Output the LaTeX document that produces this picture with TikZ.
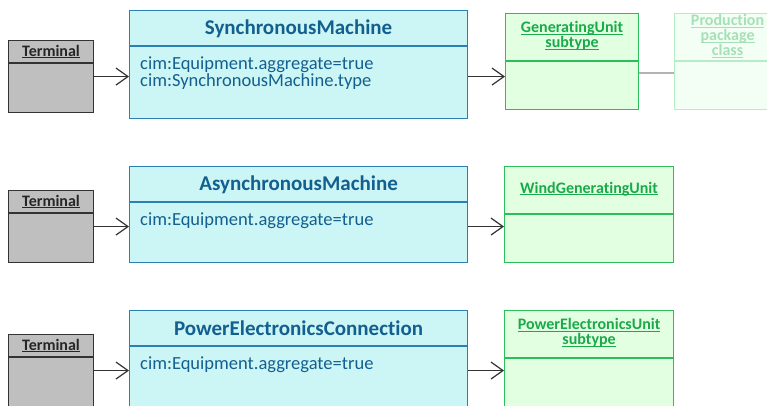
\documentclass[tikz,border=0pt]{standalone}
\usepackage{fontspec}
\setmainfont{Carlito}[Ligatures={NoCommon,NoContextual}]
\usetikzlibrary{arrows.meta}
\definecolor{tfill}{HTML}{BFBFBF}
\definecolor{tline}{HTML}{333333}
\definecolor{ttext}{HTML}{262626}
\definecolor{cfill}{HTML}{CCF5F5}
\definecolor{cline}{HTML}{2A80B4}
\definecolor{ctext}{HTML}{135F8F}
\definecolor{gfill}{HTML}{E2FFE2}
\definecolor{gline}{HTML}{2DBE5C}
\definecolor{gtext}{HTML}{1AAA4A}
\definecolor{ffill}{HTML}{F3FFF5}
\definecolor{fline}{HTML}{B6ECC6}
\definecolor{ftext}{HTML}{A6E0B6}
\definecolor{conn}{HTML}{B3B3B3}
\newcommand\myul[1]{\setbox0\hbox{#1}\rlap{\rule[-1.6pt]{\wd0}{0.9pt}}\box0}
\tikzset{
  box/.style={draw, line width=1.1pt, inner sep=0pt, anchor=north west},
  termbox/.style={box, fill=tfill, draw=tline, minimum width=85pt, minimum height=72pt},
  cyanbox/.style={box, fill=cfill, draw=cline, minimum width=338pt},
  greenbox/.style={box, fill=gfill, draw=gline},
  fadebox/.style={box, fill=ffill, draw=fline},
  termtext/.style={text=ttext, font=\fontsize{16}{14}\selectfont\bfseries},
  titletext/.style={text=ctext, font=\fontsize{21}{22}\selectfont\bfseries},
  attrtext/.style={text=ctext, font=\fontsize{18.5}{16}\selectfont, anchor=north west, align=left, inner sep=0pt},
  greentext/.style={text=gtext, font=\fontsize{16}{15}\selectfont\bfseries, align=center, inner sep=0pt},
  fadetext/.style={text=ftext, font=\fontsize{16}{15}\selectfont\bfseries, align=center, inner sep=0pt},
  assoc/.style={draw=tline, line width=1.2pt, -{Straight Barb[length=12pt,width=17pt,line width=1.2pt]}},
  plain/.style={draw=conn, line width=1.6pt}
}
\begin{document}
\begin{tikzpicture}[x=1pt,y=-1pt]
\useasboundingbox (0,0) rectangle (767,405);
\clip (0,0) rectangle (767,405);
\fill[white] (0,0) rectangle (767,405);

% ---------- Row 1 ----------
\node[termbox] (t1) at (8,40) {};
\draw[tline, line width=1.1pt] ([yshift=-23pt]t1.north west) -- ([yshift=-23pt]t1.north east);
\node[termtext] (t1t) at ([yshift=-11.5pt]t1.north) {\myul{Terminal}};

\node[cyanbox, minimum height=108pt] (sm) at (129,10) {};
\draw[cline, line width=1.1pt] ([yshift=-36pt]sm.north west) -- ([yshift=-36pt]sm.north east);
\node[titletext] (smt) at ([yshift=-18.5pt]sm.north) {SynchronousMachine};
\node[attrtext] (sma) at ([xshift=11pt,yshift=-46.5pt]sm.north west) {cim:Equipment.aggregate=true\\cim:SynchronousMachine.type};

\node[greenbox, minimum width=133pt, minimum height=96pt] (gu) at (505,13) {};
\draw[gline, line width=1.1pt] ([yshift=-48pt]gu.north west) -- ([yshift=-48pt]gu.north east);
\node[greentext] (gut) at ([yshift=-23pt]gu.north) {\myul{GeneratingUnit}\\\myul{subtype}};

\node[fadebox, minimum width=106pt, minimum height=96pt] (pr) at (674,13) {};
\draw[fline, line width=1.1pt] ([yshift=-48pt]pr.north west) -- ([yshift=-48pt]pr.north east);
\node[fadetext] (prt) at ([yshift=-23pt]pr.north) {\myul{Production}\\\myul{package}\\\myul{class}};

\draw[assoc] (t1.east) -- (t1.east -| sm.west);
\draw[assoc] (t1.east -| sm.east) -- (t1.east -| gu.west);
\draw[plain] ([yshift=-60pt]gu.north east) -- ([yshift=-60pt]gu.north east -| pr.west);

% ---------- Row 2 ----------
\node[termbox] (t2) at (8,190) {};
\draw[tline, line width=1.1pt] ([yshift=-23pt]t2.north west) -- ([yshift=-23pt]t2.north east);
\node[termtext] (t2t) at ([yshift=-11.5pt]t2.north) {\myul{Terminal}};

\node[cyanbox, minimum height=96pt] (am) at (129,166) {};
\draw[cline, line width=1.1pt] ([yshift=-36pt]am.north west) -- ([yshift=-36pt]am.north east);
\node[titletext] (amt) at ([yshift=-18.5pt]am.north) {AsynchronousMachine};
\node[attrtext] (ama) at ([xshift=11pt,yshift=-46.5pt]am.north west) {cim:Equipment.aggregate=true};

\node[greenbox, minimum width=169pt, minimum height=96pt] (wg) at (504,166) {};
\draw[gline, line width=1.1pt] ([yshift=-48pt]wg.north west) -- ([yshift=-48pt]wg.north east);
\node[greentext] (wgt) at ([yshift=-23pt]wg.north) {\myul{WindGeneratingUnit}};

\draw[assoc] (t2.east) -- (t2.east -| am.west);
\draw[assoc] (t2.east -| am.east) -- (t2.east -| wg.west);

% ---------- Row 3 ----------
\node[termbox] (t3) at (8,334) {};
\draw[tline, line width=1.1pt] ([yshift=-23pt]t3.north west) -- ([yshift=-23pt]t3.north east);
\node[termtext] (t3t) at ([yshift=-11.5pt]t3.north) {\myul{Terminal}};

\node[cyanbox, minimum height=108pt] (pe) at (129,310) {};
\draw[cline, line width=1.1pt] ([yshift=-36pt]pe.north west) -- ([yshift=-36pt]pe.north east);
\node[titletext] (pet) at ([yshift=-18.5pt]pe.north) {PowerElectronicsConnection};
\node[attrtext] (pea) at ([xshift=11pt,yshift=-46.5pt]pe.north west) {cim:Equipment.aggregate=true};

\node[greenbox, minimum width=169pt, minimum height=108pt] (pu) at (504,310) {};
\draw[gline, line width=1.1pt] ([yshift=-48pt]pu.north west) -- ([yshift=-48pt]pu.north east);
\node[greentext] (put) at ([yshift=-23pt]pu.north) {\myul{PowerElectronicsUnit}\\\myul{subtype}};

\draw[assoc] (t3.east) -- (t3.east -| pe.west);
\draw[assoc] (t3.east -| pe.east) -- (t3.east -| pu.west);
\end{tikzpicture}
\end{document}
